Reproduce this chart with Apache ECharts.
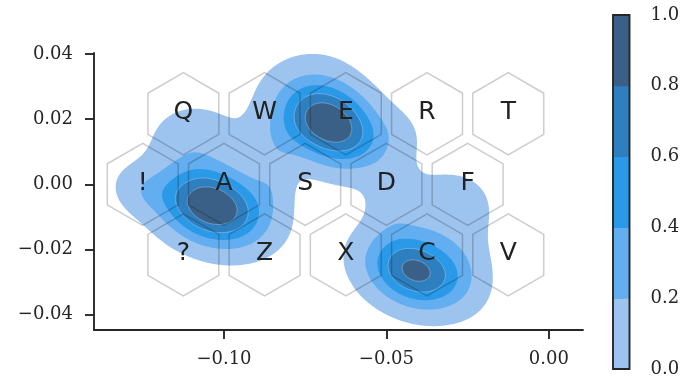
<!DOCTYPE html>
<html>
<head>
<meta charset="utf-8">
<script src="https://cdn.jsdelivr.net/npm/echarts@6/dist/echarts.min.js"></script>
<style>
  html, body { margin: 0; padding: 0; background: #fff; }
  #chart { width: 699px; height: 383px; }
</style>
</head>
<body>
<div id="chart"></div>
<script>
// keyboard keys (hex centres)
const keyLabels = ['Q', 'W', 'E', 'R', 'T', '!', 'A', 'S', 'D', 'F', '?', 'Z', 'X', 'C', 'V']
const keyX = [-0.1125, -0.0875, -0.0625, -0.0375, -0.0125,
  -0.125, -0.1, -0.075, -0.05, -0.025,
  -0.1125, -0.0875, -0.0625, -0.0375, -0.0125]
const keyY = [0.02165, 0.02165, 0.02165, 0.02165, 0.02165,
  0, 0, 0, 0, 0,
  -0.02165, -0.02165, -0.02165, -0.02165, -0.02165]

// kde components (centre, spread, angle, weight)
const blobX = [-0.10354, -0.06738, -0.04092, -0.07046, -0.10892, -0.12585, -0.08523, -0.08431, -0.04585, -0.04831, -0.03046, -0.02431]
const blobY = [-0.00666, 0.0185, -0.0266, 0.03046, 0.01512, -0.00175, 0.01298, 0.00132, 0.01512, -0.00482, -0.00635, -0.02157]
const blobS1 = [0.01167, 0.01137, 0.01106, 0.00983, 0.00922, 0.00614, 0.00676, 0.0043, 0.00614, 0.00553, 0.00922, 0.00553]
const blobS2 = [0.00799, 0.00799, 0.00768, 0.00983, 0.00676, 0.00492, 0.00676, 0.00676, 0.00614, 0.00768, 0.00768, 0.00922]
const blobAngle = [-20, -30, -20, 0, 0, -20, 0, 0, 0, 0, 0, 0]
const blobW = [1.0, 0.95, 0.86, 0.08, 0.2, 0.15, 0.13, 0.13, 0.08, 0.15, 0.2, 0.08]

const levels = [0.1, 0.3, 0.47, 0.63, 0.8]
const levelColors = ['#9dc3ef', '#62aef0', '#2999e8', '#2e7fc0', '#3b6088']
const colorbarTicks = [0, 0.2, 0.4, 0.6, 0.8, 1.0]
const xTicks = [-0.1, -0.05, 0]
const yTicks = [-0.04, -0.02, 0, 0.02, 0.04]

const HEX_R = 0.0126
const INK = '#262626'
const SERIF = '"DejaVu Serif", serif'

// density grid
const GX0 = -0.15, GX1 = 0.02, GY0 = -0.056, GY1 = 0.05, NX = 360, NY = 230
const gx = i => GX0 + (GX1 - GX0) * i / (NX - 1)
const gy = j => GY0 + (GY1 - GY0) * j / (NY - 1)

function density(x, y) {
  let s = 0
  for (let k = 0; k < blobX.length; k++) {
    const a = blobAngle[k] * Math.PI / 180
    const dx = x - blobX[k], dy = y - blobY[k]
    const u = (dx * Math.cos(a) + dy * Math.sin(a)) / blobS1[k]
    const v = (-dx * Math.sin(a) + dy * Math.cos(a)) / blobS2[k]
    s += blobW[k] * Math.exp(-0.5 * (u * u + v * v))
  }
  return s
}

const field = []
let fmax = 0
for (let j = 0; j < NY; j++) {
  const row = []
  for (let i = 0; i < NX; i++) {
    const d = (i === 0 || j === 0 || i === NX - 1 || j === NY - 1) ? 0 : density(gx(i), gy(j))
    row.push(d)
    fmax = Math.max(fmax, d)
  }
  field.push(row)
}
field.forEach(row => row.forEach((d, i) => { row[i] = d / fmax }))

// marching squares -> closed loops
function isoLoops(f, t) {
  const adj = new Map(), pts = new Map()
  const ep = (kind, i, j) => {
    const key = kind + i + ',' + j
    if (!pts.has(key)) {
      if (kind === 'h') {
        const a = f[j][i], b = f[j][i + 1]
        pts.set(key, [gx(i + (t - a) / (b - a)), gy(j)])
      } else {
        const a = f[j][i], b = f[j + 1][i]
        pts.set(key, [gx(i), gy(j + (t - a) / (b - a))])
      }
    }
    return key
  }
  const link = (p, q) => {
    if (!adj.has(p)) adj.set(p, [])
    if (!adj.has(q)) adj.set(q, [])
    adj.get(p).push(q)
    adj.get(q).push(p)
  }
  for (let j = 0; j < NY - 1; j++) {
    for (let i = 0; i < NX - 1; i++) {
      const c = (f[j][i] >= t ? 1 : 0) | (f[j][i + 1] >= t ? 2 : 0) |
        (f[j + 1][i + 1] >= t ? 4 : 0) | (f[j + 1][i] >= t ? 8 : 0)
      if (c === 0 || c === 15) continue
      const B = () => ep('h', i, j), R = () => ep('v', i + 1, j)
      const T = () => ep('h', i, j + 1), L = () => ep('v', i, j)
      switch (c) {
        case 1: case 14: link(L(), B()); break
        case 2: case 13: link(B(), R()); break
        case 3: case 12: link(L(), R()); break
        case 4: case 11: link(R(), T()); break
        case 6: case 9: link(B(), T()); break
        case 7: case 8: link(L(), T()); break
        case 5: case 10: {
          const mid = (f[j][i] + f[j][i + 1] + f[j + 1][i + 1] + f[j + 1][i]) / 4 >= t
          if ((c === 5) === mid) { link(L(), T()); link(B(), R()) }
          else { link(L(), B()); link(R(), T()) }
        }
      }
    }
  }
  const loops = [], seen = new Set()
  for (const start of adj.keys()) {
    if (seen.has(start)) continue
    const loop = []
    let cur = start
    while (cur && !seen.has(cur)) {
      seen.add(cur)
      loop.push(pts.get(cur))
      cur = adj.get(cur).find(n => !seen.has(n))
    }
    if (loop.length > 2) loops.push(loop)
  }
  return loops
}

const contours = []
levels.forEach((t, li) => {
  isoLoops(field, t).forEach(points => contours.push({ level: li, points }))
})

const fmtAxis = v => (v < 0 ? '\u2212' : '') + Math.abs(v).toFixed(2)

const chart = echarts.init(document.getElementById('chart'))

const axisCommon = {
  axisLine: { show: true, onZero: false, lineStyle: { color: INK, width: 1.9 } },
  axisTick: { show: true, length: 9, lineStyle: { color: INK, width: 1.9 } },
  splitLine: { show: false },
}

chart.setOption({
  animation: false,
  grid: [
    { left: 94, top: 53, width: 489, height: 277 },
    { left: 613, top: 15, width: 16.5, height: 354 },
  ],
  xAxis: [
    {
      ...axisCommon,
      gridIndex: 0, type: 'value', min: -0.14, max: 0.0105,
      axisTick: { ...axisCommon.axisTick, customValues: xTicks },
      axisLabel: { customValues: xTicks, formatter: fmtAxis, fontFamily: SERIF, fontSize: 18, color: INK, margin: 20 },
    },
    { gridIndex: 1, type: 'value', min: 0, max: 1, show: false },
  ],
  yAxis: [
    {
      ...axisCommon,
      gridIndex: 0, type: 'value', min: -0.0447, max: 0.0403,
      axisTick: { ...axisCommon.axisTick, customValues: yTicks },
      axisLabel: { customValues: yTicks, formatter: fmtAxis, fontFamily: SERIF, fontSize: 18, color: INK, margin: 21 },
    },
    {
      gridIndex: 1, type: 'value', min: 0, max: 1, interval: 0.2, position: 'right',
      axisLine: { show: false },
      axisTick: { show: true, length: 10, lineStyle: { color: INK, width: 1.9 } },
      splitLine: { show: false },
      axisLabel: { formatter: v => v.toFixed(1), fontFamily: SERIF, fontSize: 18, color: INK, margin: 21 },
    },
  ],
  series: [
    {
      name: 'kde',
      type: 'custom',
      xAxisIndex: 0, yAxisIndex: 0,
      clip: true,
      data: contours.map(c => c.points[0]),
      renderItem(params, api) {
        const c = contours[params.dataIndex]
        const strong = c.level >= 3
        return {
          type: 'polygon',
          shape: { points: c.points.map(p => api.coord(p)) },
          style: {
            fill: levelColors[c.level],
            stroke: strong ? 'rgba(255,255,255,0.35)' : null,
            lineWidth: strong ? 0.8 : 0,
          },
        }
      },
    },
    {
      name: 'keys',
      type: 'custom',
      xAxisIndex: 0, yAxisIndex: 0,
      data: keyLabels.map((l, k) => [keyX[k], keyY[k], l]),
      renderItem(params, api) {
        const cx = api.value(0), cy = api.value(1)
        const pts = []
        for (let k = 0; k < 6; k++) {
          const a = Math.PI / 6 + k * Math.PI / 3
          pts.push(api.coord([cx + HEX_R * Math.cos(a), cy + HEX_R * Math.sin(a)]))
        }
        const c = api.coord([cx, cy])
        return {
          type: 'group',
          children: [
            { type: 'polygon', shape: { points: pts }, style: { fill: null, stroke: 'rgba(0,0,0,0.2)', lineWidth: 1.5 } },
            {
              type: 'text', x: c[0], y: c[1] - 1,
              style: {
                text: keyLabels[params.dataIndex], fill: '#222',
                font: '25px "DejaVu Sans", sans-serif',
                align: 'center', verticalAlign: 'middle',
              },
            },
          ],
        }
      },
    },
    {
      name: 'colorbar',
      type: 'custom',
      xAxisIndex: 1, yAxisIndex: 1,
      data: levelColors.map((col, k) => [colorbarTicks[k], colorbarTicks[k + 1]]),
      renderItem(params, api) {
        const p0 = api.coord([0, api.value(1)])
        const p1 = api.coord([1, api.value(0)])
        return {
          type: 'rect',
          shape: { x: p0[0], y: p0[1], width: p1[0] - p0[0], height: p1[1] - p0[1] + 0.5 },
          style: { fill: levelColors[params.dataIndex] },
        }
      },
    },
    {
      name: 'colorbar frame',
      type: 'custom',
      xAxisIndex: 1, yAxisIndex: 1,
      data: [[0, 0]],
      renderItem(params, api) {
        const p0 = api.coord([0, 1])
        const p1 = api.coord([1, 0])
        return {
          type: 'rect',
          shape: { x: p0[0], y: p0[1], width: p1[0] - p0[0], height: p1[1] - p0[1] },
          style: { fill: null, stroke: INK, lineWidth: 1.9 },
        }
      },
    },
  ],
})
</script>
</body>
</html>
